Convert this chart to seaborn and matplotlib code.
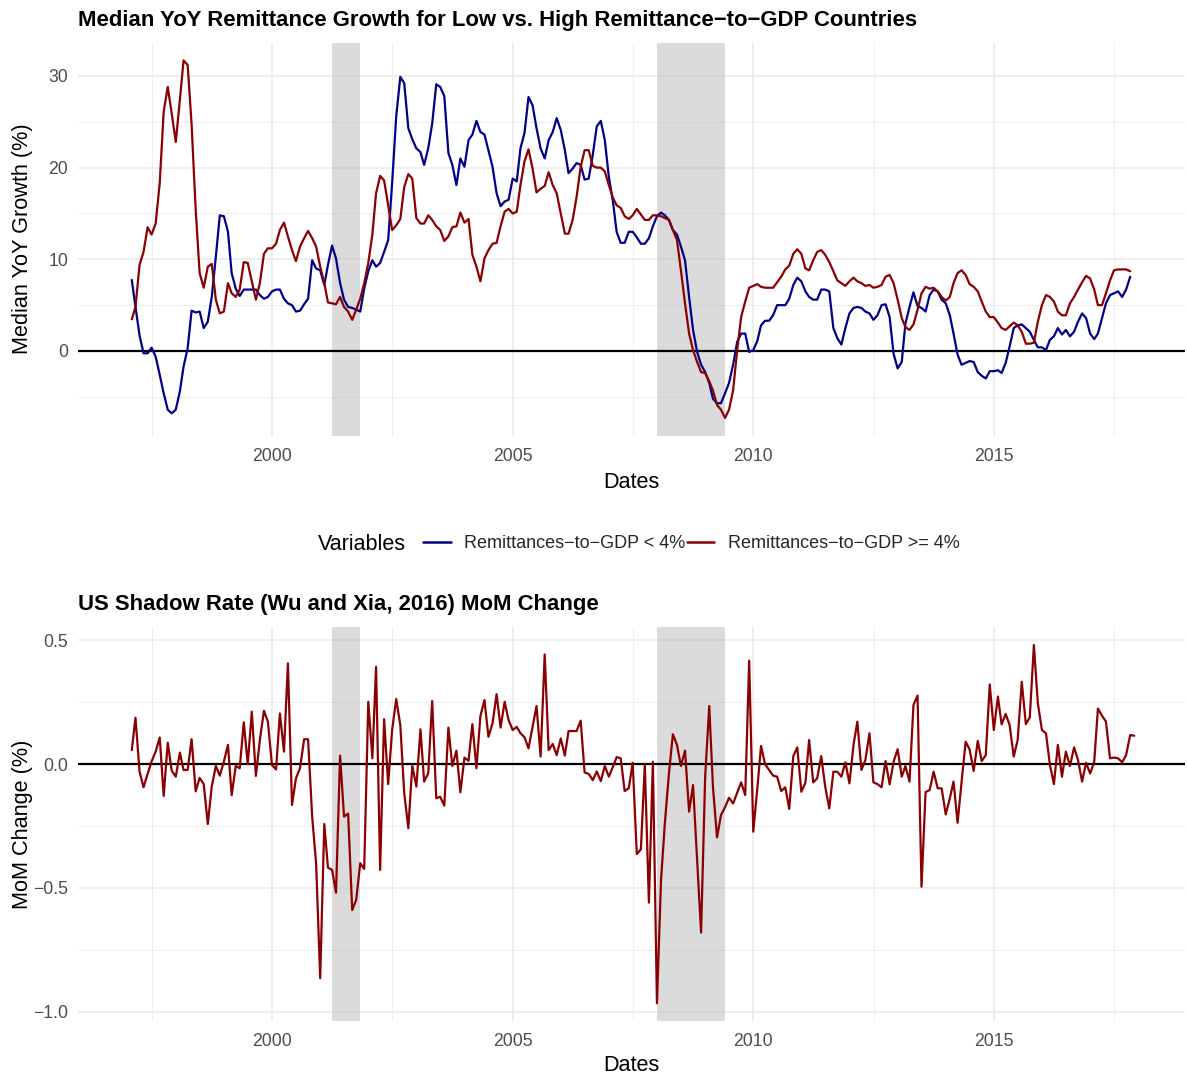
import numpy as np
import pandas as pd
import matplotlib
matplotlib.use("Agg")
import matplotlib.pyplot as plt
import matplotlib.dates as mdates
from matplotlib.ticker import FixedLocator, FuncFormatter
import seaborn as sns

# ---------------- data ----------------
start_month = "1997-02-01"

low_remit = [
    7.75, 4.8, 1.7, -0.25, -0.25, 0.36, -0.6, -2.6, -4.6, -6.4,
    -6.8, -6.4, -4.4, -1.7, 0.3, 4.4, 4.2, 4.3, 2.5, 3.2,
    5.9, 10.3, 14.8, 14.7, 13.0, 8.5, 6.8, 6.0, 6.7, 6.7,
    6.7, 6.7, 6.1, 5.7, 5.9, 6.5, 6.7, 6.7, 5.7, 5.2,
    5.0, 4.3, 4.4, 5.1, 5.7, 9.9, 9.0, 8.8, 7.2, 9.4,
    11.5, 10.1, 7.4, 5.6, 4.8, 4.7, 4.5, 4.3, 6.8, 8.7,
    9.9, 9.2, 9.6, 10.8, 12.1, 18.3, 25.6, 29.9, 29.2, 24.3,
    23.1, 22.1, 21.7, 20.3, 22.1, 24.8, 29.1, 28.8, 27.8, 21.6,
    20.3, 18.1, 21.0, 20.1, 23.0, 23.6, 25.1, 23.9, 23.6, 21.9,
    20.1, 17.2, 15.8, 16.3, 16.5, 18.8, 18.5, 22.1, 23.8, 27.7,
    26.8, 24.3, 22.1, 21.0, 23.0, 23.9, 25.4, 24.1, 21.9, 19.4,
    19.9, 20.5, 20.3, 18.7, 18.8, 21.4, 24.5, 25.1, 23.0, 19.0,
    16.3, 13.0, 11.8, 11.8, 13.0, 13.0, 12.4, 11.7, 11.7, 12.3,
    13.6, 14.7, 15.1, 14.8, 14.3, 13.2, 12.7, 11.4, 9.9, 5.9,
    2.3, -0.1, -1.5, -2.3, -3.5, -5.2, -5.7, -5.7, -4.6, -3.5,
    -1.5, 1.0, 1.9, 1.9, -0.1, 0.1, 1.1, 2.8, 3.3, 3.3,
    3.9, 5.0, 5.0, 5.0, 5.7, 7.2, 8.0, 7.6, 6.5, 5.9,
    5.6, 5.6, 6.7, 6.7, 6.5, 2.5, 1.4, 0.7, 2.5, 4.1,
    4.7, 4.8, 4.7, 4.3, 4.1, 3.4, 3.9, 5.0, 5.1, 3.7,
    -0.3, -1.9, -1.2, 3.0, 4.8, 6.4, 4.9, 4.7, 4.3, 6.1,
    6.7, 6.5, 5.6, 5.2, 3.9, 1.9, -0.4, -1.5, -1.3, -1.1,
    -1.2, -2.3, -2.7, -3.0, -2.2, -2.2, -2.1, -2.4, -1.3, 0.5,
    2.5, 2.8, 2.9, 2.5, 2.1, 1.2, 0.4, 0.4, 0.1, 1.2,
    1.6, 2.5, 1.8, 2.3, 1.6, 2.1, 3.2, 4.1, 3.6, 1.9,
    1.3, 1.9, 3.6, 5.2, 6.1, 6.3, 6.5, 5.9, 6.7, 8.1,
]

high_remit = [
    3.45, 4.8, 9.4, 10.8, 13.5, 12.7, 13.9, 18.3, 26.1, 28.8,
    25.9, 22.8, 27.4, 31.7, 31.2, 24.7, 15.4, 8.5, 6.9, 9.2,
    9.5, 5.6, 4.1, 4.3, 7.4, 6.3, 5.9, 6.7, 9.7, 9.6,
    7.6, 5.6, 7.4, 10.6, 11.2, 11.2, 11.7, 13.2, 14.0, 12.5,
    11.0, 9.8, 11.4, 12.3, 13.1, 12.3, 11.4, 9.2, 7.4, 5.3,
    5.2, 5.1, 5.9, 4.8, 4.3, 3.4, 4.5, 5.7, 7.4, 9.6,
    12.7, 17.2, 19.1, 18.6, 15.9, 13.2, 13.7, 14.4, 17.9, 19.3,
    18.8, 14.5, 13.9, 13.9, 14.8, 14.3, 13.6, 13.2, 12.0, 12.5,
    13.5, 13.6, 15.1, 14.0, 14.4, 10.5, 9.2, 7.6, 10.1, 11.0,
    11.7, 11.8, 13.6, 15.2, 15.5, 15.0, 15.2, 18.1, 20.7, 22.0,
    19.9, 17.3, 17.7, 18.0, 19.5, 18.1, 17.2, 15.0, 12.8, 12.8,
    14.3, 16.8, 20.1, 21.9, 21.9, 20.2, 20.0, 20.0, 19.6, 18.1,
    16.7, 15.9, 15.6, 14.7, 14.4, 14.8, 15.5, 14.9, 14.3, 14.3,
    14.8, 14.8, 14.7, 14.5, 14.3, 13.2, 12.1, 8.8, 5.2, 1.9,
    0.1, -1.2, -2.3, -2.4, -3.3, -4.3, -5.9, -6.4, -7.3, -6.4,
    -4.3, 0.1, 3.7, 5.4, 6.9, 7.1, 7.3, 7.0, 6.9, 6.9,
    6.9, 7.5, 8.1, 8.9, 9.3, 10.6, 11.1, 10.6, 9.0, 8.8,
    9.9, 10.8, 11.0, 10.5, 9.7, 8.7, 7.7, 7.4, 7.1, 7.6,
    8.0, 7.6, 7.4, 7.1, 7.2, 6.9, 7.0, 7.2, 8.1, 8.3,
    7.4, 5.6, 3.6, 2.6, 2.3, 2.9, 4.5, 6.3, 7.0, 6.8,
    6.9, 6.5, 5.9, 5.5, 5.9, 7.4, 8.5, 8.8, 8.3, 7.3,
    7.0, 6.5, 5.4, 4.3, 3.7, 3.7, 3.1, 2.5, 2.3, 2.7,
    3.1, 2.8, 2.1, 0.8, 0.8, 0.9, 3.2, 5.0, 6.1, 5.9,
    5.4, 4.3, 3.9, 3.9, 5.2, 5.9, 6.7, 7.5, 8.2, 7.9,
    6.7, 5.0, 5.0, 6.3, 7.7, 8.8, 8.9, 8.9, 8.9, 8.7,
]

shadow_mom = [
    0.056, 0.187, -0.031, -0.094, -0.04, 0.01, 0.05, 0.107, -0.129, 0.086,
    -0.027, -0.051, 0.046, -0.024, -0.024, 0.10, -0.11, -0.056, -0.081, -0.242,
    -0.09, -0.008, -0.047, 0.01, 0.077, -0.126, -0.008, -0.017, 0.168, 0.0,
    0.211, -0.048, 0.097, 0.215, 0.171, -0.004, -0.022, 0.204, 0.05, 0.406,
    -0.165, -0.058, -0.017, 0.10, 0.10, -0.212, -0.40, -0.864, -0.242, -0.418,
    -0.427, -0.519, 0.034, -0.212, -0.20, -0.589, -0.548, -0.40, -0.423, 0.251,
    0.023, 0.392, -0.427, 0.181, -0.081, 0.137, 0.262, 0.157, -0.118, -0.259,
    -0.007, -0.091, 0.14, -0.071, -0.038, 0.254, -0.138, -0.132, -0.168, 0.147,
    -0.008, 0.054, -0.114, 0.026, 0.013, 0.161, -0.017, 0.194, 0.258, 0.11,
    0.164, 0.282, 0.147, 0.251, 0.177, 0.137, 0.15, 0.124, 0.108, 0.063,
    0.15, 0.234, 0.03, 0.442, 0.056, 0.081, 0.036, 0.103, 0.034, 0.133,
    0.133, 0.133, 0.175, -0.034, -0.04, -0.065, -0.03, -0.069, -0.008, -0.051,
    -0.011, 0.028, 0.023, -0.109, -0.098, 0.005, -0.363, -0.344, -0.001, -0.559,
    0.009, -0.965, -0.468, -0.239, -0.038, 0.12, 0.077, -0.008, 0.054, -0.192,
    -0.085, -0.387, -0.680, -0.051, 0.234, -0.091, -0.296, -0.206, -0.174, -0.136,
    -0.159, -0.116, -0.074, -0.125, 0.417, -0.273, -0.098, 0.073, -0.001, -0.024,
    -0.047, -0.051, -0.109, -0.094, -0.181, 0.032, 0.067, -0.112, -0.075, 0.097,
    -0.074, -0.058, 0.032, -0.091, -0.179, -0.031, -0.031, -0.051, 0.007, -0.078,
    0.077, 0.171, -0.024, 0.016, 0.124, -0.074, -0.081, -0.094, 0.012, -0.082,
    0.009, 0.06, -0.051, -0.008, -0.071, 0.238, 0.276, -0.495, -0.113, -0.105,
    -0.031, -0.098, -0.098, -0.203, -0.138, -0.071, -0.237, -0.073, 0.09, 0.059,
    -0.028, 0.093, 0.012, 0.036, 0.321, 0.137, 0.272, 0.16, 0.202, 0.157,
    0.03, 0.097, 0.332, 0.161, 0.188, 0.48, 0.245, 0.137, 0.124, -0.001,
    -0.081, 0.077, -0.051, 0.05, -0.008, 0.067, 0.016, -0.071, 0.005, -0.038,
    0.009, 0.224, 0.195, 0.171, 0.023, 0.026, 0.023, 0.007, 0.036, 0.117,
    0.114,
]

recession_starts = ["2001-04-01", "2008-01-01"]
recession_ends = ["2001-11-01", "2009-06-01"]

label_low = "Remittances\u2212to\u2212GDP < 4%"
label_high = "Remittances\u2212to\u2212GDP >= 4%"
series_labels = [label_low, label_high]
series_colors = ["#00008B", "#8B0000"]

title_top = "Median YoY Remittance Growth for Low vs. High Remittance\u2212to\u2212GDP Countries"
title_bot = "US Shadow Rate (Wu and Xia, 2016) MoM Change"

top_yticks = [0, 10, 20, 30]
top_yminor = [-5, 5, 15, 25]
bot_yticks = [-1.0, -0.5, 0.0, 0.5]
bot_yminor = [-0.75, -0.25, 0.25]
x_major = ["2000-01-01", "2005-01-01", "2010-01-01", "2015-01-01"]
x_minor = ["1997-07-02", "2002-07-02", "2007-07-02", "2012-07-02", "2017-07-02"]
x_limits = ["1995-12-23", "2018-12-22"]

# ---------------- frames ----------------
dates_top = pd.date_range(start_month, periods=len(low_remit), freq="MS")
dates_bot = pd.date_range(start_month, periods=len(shadow_mom), freq="MS")
df_top = pd.DataFrame({
    "Dates": list(dates_top) * 2,
    "value": low_remit + high_remit,
    "Variables": [label_low] * len(low_remit) + [label_high] * len(high_remit),
})
df_bot = pd.DataFrame({"Dates": dates_bot, "value": shadow_mom})

# ---------------- style ----------------
sns.set_theme(style="white")
plt.rcParams["font.family"] = ["Liberation Sans", "DejaVu Sans"]
plt.rcParams["axes.unicode_minus"] = True

W, H = 1187, 1076
fig = plt.figure(figsize=(W / 100, H / 100), dpi=100)
left_px, right_px = 78.3, 1185.0
ax1 = fig.add_axes([left_px / W, 1 - 435.8 / H, (right_px - left_px) / W, (435.8 - 42.5) / H])
ax2 = fig.add_axes([left_px / W, 1 - 1021.2 / H, (right_px - left_px) / W, (1021.2 - 627.1) / H])

grid_col = "#EBEBEB"
tick_col = "#4D4D4D"


def style_axis(ax, yt, ymin, vals):
    ax.set_axisbelow(True)
    for s in ax.spines.values():
        s.set_visible(False)
    ax.set_xlim(pd.to_datetime(x_limits[0]), pd.to_datetime(x_limits[1]))
    ax.xaxis.set_major_locator(FixedLocator(mdates.date2num(pd.to_datetime(x_major))))
    ax.xaxis.set_minor_locator(FixedLocator(mdates.date2num(pd.to_datetime(x_minor))))
    ax.xaxis.set_major_formatter(mdates.DateFormatter("%Y"))
    ax.yaxis.set_major_locator(FixedLocator(yt))
    ax.yaxis.set_minor_locator(FixedLocator(ymin))
    lo, hi = min(vals), max(vals)
    pad = 0.05 * (hi - lo)
    ax.set_ylim(lo - pad, hi + pad)
    ax.grid(which="major", color=grid_col, lw=1.2)
    ax.grid(which="minor", color=grid_col, lw=0.6)
    ax.tick_params(axis="both", which="both", length=0, labelsize=12.7, labelcolor=tick_col)
    ax.tick_params(axis="x", pad=8.6)
    ax.tick_params(axis="y", pad=7.2)
    for s, e in zip(recession_starts, recession_ends):
        ax.axvspan(pd.to_datetime(s), pd.to_datetime(e), color="#BEBEBE", alpha=0.55, lw=0, zorder=1)
    ax.axhline(0, color="black", lw=1.6, zorder=1.5)


style_axis(ax1, top_yticks, top_yminor, low_remit + high_remit)
style_axis(ax2, bot_yticks, bot_yminor, shadow_mom)
ax2.yaxis.set_major_formatter(FuncFormatter(lambda v, p: f"{v:.1f}".replace("-", "\u2212")))

# ---------------- lines ----------------
sns.lineplot(data=df_top, x="Dates", y="value", hue="Variables", hue_order=series_labels,
             palette=dict(zip(series_labels, series_colors)), errorbar=None,
             lw=1.6, ax=ax1, zorder=3)
sns.lineplot(data=df_bot, x="Dates", y="value", color=series_colors[1], errorbar=None,
             lw=1.6, ax=ax2, zorder=3)

# keep the axis limits / locators after seaborn
for ax in (ax1, ax2):
    ax.set_xlim(pd.to_datetime(x_limits[0]), pd.to_datetime(x_limits[1]))
    ax.xaxis.set_major_formatter(mdates.DateFormatter("%Y"))

leg = ax1.get_legend()
handles = list(leg.legend_handles)
labels = [t.get_text() for t in leg.get_texts()]
leg.remove()

# ---------------- labels ----------------
ax1.set_xlabel("Dates", fontsize=15.6, color="black")
ax2.set_xlabel("Dates", fontsize=15.6, color="black")
ax1.set_ylabel("Median YoY Growth (%)", fontsize=15.6, color="black")
ax2.set_ylabel("MoM Change (%)", fontsize=15.6, color="black")
ax1.xaxis.set_label_coords(0.5, (435.8 - 472) / 393.3)
ax2.xaxis.set_label_coords(0.5, (1021.2 - 1055) / 394.1)
ax1.yaxis.set_label_coords((33 - left_px) / (right_px - left_px), 0.5)
ax2.yaxis.set_label_coords((33 - left_px) / (right_px - left_px), 0.5)

fig.text(left_px / W, 1 - 26 / H, title_top, fontsize=15.9, fontweight="bold",
         ha="left", va="baseline", color="black")
fig.text(left_px / W, 1 - 610 / H, title_bot, fontsize=15.9, fontweight="bold",
         ha="left", va="baseline", color="black")

# ---------------- legend ----------------
fig.text(317.6 / W, 1 - 544 / H, "Variables", fontsize=15.5, ha="left", va="center", color="black")
for h, c in zip(handles, series_colors):
    h.set_color(c)
    h.set_linewidth(1.8)
fig.legend(handles, labels, loc="center left", bbox_to_anchor=(423 / W, 1 - 544 / H),
           ncol=2, frameon=False, fontsize=12.95, handlelength=1.55, handletextpad=0.75,
           columnspacing=0.05, borderpad=0, borderaxespad=0)

fig.savefig("out.png", dpi=100)
